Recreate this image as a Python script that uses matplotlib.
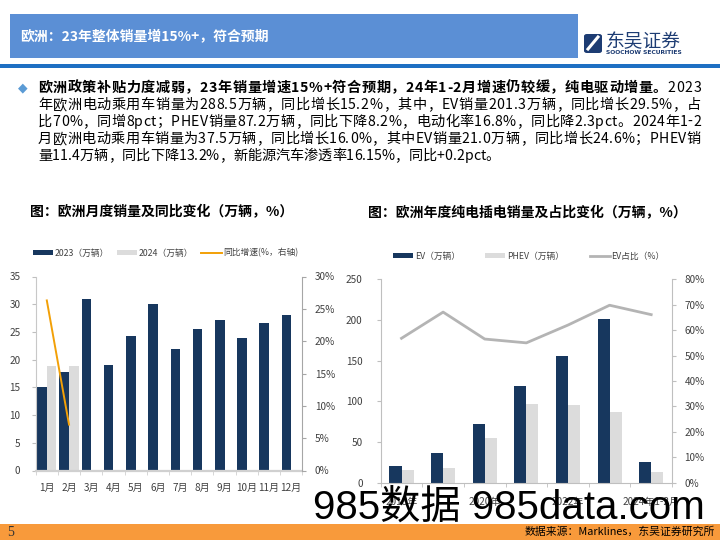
import matplotlib
matplotlib.use('Agg')
import matplotlib.pyplot as plt
import numpy as np
from matplotlib.patches import Rectangle, FancyBboxPatch, Patch
from matplotlib.lines import Line2D
from matplotlib.ticker import FuncFormatter, FixedLocator

plt.rcParams['font.family'] = ['Noto Sans CJK SC', 'DejaVu Sans']

# ---------------- data ----------------
months = ['1月', '2月', '3月', '4月', '5月', '6月', '7月', '8月', '9月', '10月', '11月', '12月']
sales_2023 = [15.0, 17.7, 31.0, 19.1, 24.3, 30.0, 22.0, 25.5, 27.2, 23.9, 26.6, 28.1]
sales_2024 = [18.9, 18.9]
yoy_2024 = [26.3, 7.1]

years = ['2018年', '2019年', '2020年', '2021年', '2022年', '2023年', '2024年1-2月']
ev_sales = [20.9, 36.5, 72.1, 118.4, 156.1, 201.3, 25.4]
phev_sales = [16.0, 18.4, 55.3, 97.1, 95.9, 87.2, 13.5]
ev_share = [56.8, 67.1, 56.5, 55.0, 62.0, 69.8, 66.1]

title = '欧洲：23年整体销量增15%+，符合预期'
body_bold = '欧洲政策补贴力度减弱，23年销量增速15%+符合预期，24年1-2月增速仍较缓，纯电驱动增量。'
body_lines = [
    '2023',
    '年欧洲电动乘用车销量为288.5万辆，同比增长15.2%，其中，EV销量201.3万辆，同比增长29.5%，占',
    '比70%，同增8pct；PHEV销量87.2万辆，同比下降8.2%，电动化率16.8%，同比降2.3pct。2024年1-2',
    '月欧洲电动乘用车销量为37.5万辆，同比增长16.0%，其中EV销量21.0万辆，同比增长24.6%；PHEV销',
    '量11.4万辆，同比下降13.2%，新能源汽车渗透率16.15%，同比+0.2pct。',
]
chart1_title = '图：欧洲月度销量及同比变化（万辆，%）'
chart2_title = '图：欧洲年度纯电插电销量及占比变化（万辆，%）'
source = '数据来源：Marklines，东吴证券研究所'

# ---------------- style ----------------
NAVY = '#17375E'
LGRAY = '#DCDCDC'
ORANGE = '#F2A007'
LINEGRAY = '#B4B4B4'
TXT = '#404040'

W, H = 720, 540
fig = plt.figure(figsize=(7.2, 5.4), dpi=100)
renderer = fig.canvas.get_renderer()

def fx(x):
    return x / W

def fy(y):
    return 1 - y / H

def rect(x0, y0, x1, y1, color, **kw):
    r = Rectangle((fx(x0), fy(y1)), fx(x1 - x0), (y1 - y0) / H, transform=fig.transFigure,
                  facecolor=color, edgecolor='none', **kw)
    fig.add_artist(r)
    return r

def text_width(s, **props):
    t = fig.text(0, 0, s, **props)
    w = t.get_window_extent(renderer).width
    t.remove()
    return w

def char_offsets(s, **props):
    base = text_width('|', **props)
    offs = [0.0]
    for k in range(1, len(s) + 1):
        offs.append(text_width(s[:k] + '|', **props) - base)
    return offs

def justified_line(segments, x0, x1, y, justify=True):
    """segments: list of (string, props). Distribute characters across [x0, x1]."""
    items = []
    start = 0.0
    for s, props in segments:
        offs = char_offsets(s, **props)
        for k, c in enumerate(s):
            items.append((c, start + offs[k], props))
        start += offs[-1]
    natural = start
    n = len(items)
    extra = (x1 - x0 - natural) / (n - 1) if (justify and n > 1) else 0.0
    for k, (c, off, props) in enumerate(items):
        fig.text(fx(x0 + off + k * extra), fy(y), c, va='center', ha='left', **props)

# header bar
rect(10, 14, 578, 58, '#5B8FD5')
fig.text(fx(20), fy(37), title, color='white', fontsize=10.0, fontweight='bold', va='center', ha='left')
rect(0, 64, 720, 68, '#1E6FC3')

# logo
icon = FancyBboxPatch((fx(584), fy(53)), fx(18), 19 / H, boxstyle='round,pad=0,rounding_size=0.004',
                      transform=fig.transFigure, facecolor='#1D3C73', edgecolor='none')
fig.add_artist(icon)
fig.add_artist(Line2D([fx(588), fx(598)], [fy(49), fy(37)], transform=fig.transFigure, color='white', lw=2.2))
fig.text(fx(606), fy(42), '东吴证券', color='#1D3C73', fontsize=13.5, va='center', ha='left')
fig.text(fx(606), fy(53), 'SOOCHOW SECURITIES', color='#1D3C73', fontsize=4.3, fontweight='bold',
         va='center', ha='left', family=['DejaVu Sans'])

# body text (justified like the slide)
BODY = 10.2
reg = dict(fontsize=BODY, color='black')
bold = dict(fontsize=BODY, color='black', fontweight='bold')
fig.text(fx(23), fy(88), '\u25C6', color='#5B9BD5', fontsize=9, va='center', ha='center', family=['DejaVu Sans'])
justified_line([(body_bold, bold), (body_lines[0], reg)], 38, 701, 88)
for i, line in enumerate(body_lines[1:]):
    last = (i == len(body_lines) - 2)
    justified_line([(line, reg)], 38, 701, 105 + 17 * i, justify=not last)

# chart titles
fig.text(fx(30), fy(212), chart1_title, fontsize=10, fontweight='bold', va='center', ha='left', color='black')
fig.text(fx(368), fy(213), chart2_title, fontsize=10, fontweight='bold', va='center', ha='left', color='black')

# ---------------- chart 1 ----------------
TICK = 7.2
ax1 = fig.add_axes([fx(35.7), fy(470.5), fx(266.6), 194 / H])
x1 = np.arange(len(months))
w1 = 0.43
ax1.bar(x1 - w1 / 2, sales_2023, w1, color=NAVY, zorder=2)
ax1.bar(np.arange(len(sales_2024)) + w1 / 2, sales_2024, w1, color=LGRAY, zorder=1)
ax1.set_xlim(-0.5, len(months) - 0.5)
ax1.set_ylim(0, 35)
ax1.set_yticks(np.arange(0, 36, 5))
ax1.set_xticks(x1)
ax1.set_xticklabels(months)
ax1.xaxis.set_minor_locator(FixedLocator(np.arange(-0.5, len(months), 1)))
ax1.tick_params(axis='x', which='major', length=0, pad=9, labelsize=TICK, labelcolor=TXT)
ax1.tick_params(axis='x', which='minor', length=3, color='#D0D0D0', direction='out')
ax1.tick_params(axis='y', length=3, color='#BFBFBF', labelsize=TICK, labelcolor=TXT, pad=8)
for s in ['top', 'right']:
    ax1.spines[s].set_visible(False)
ax1.spines['left'].set_color('#C8C8C8')
ax1.spines['bottom'].set_color('#D0D0D0')
ax1.spines['bottom'].set_linewidth(1.6)

ax1b = ax1.twinx()
ax1b.plot(np.arange(len(yoy_2024)), yoy_2024, color=ORANGE, lw=1.4, zorder=3)
ax1b.set_ylim(0, 30)
ax1b.set_yticks(np.arange(0, 31, 5))
ax1b.yaxis.set_major_formatter(FuncFormatter(lambda v, p: f'{v:.0f}%'))
ax1b.tick_params(axis='y', length=3, color='#A6A6A6', labelsize=TICK, labelcolor=TXT, pad=6)
for s in ['top', 'left', 'bottom']:
    ax1b.spines[s].set_visible(False)
ax1b.spines['right'].set_color('#A6A6A6')

LEG = 6.3
h1 = [Patch(facecolor=NAVY), Patch(facecolor=LGRAY), Line2D([], [], color=ORANGE, lw=1.4)]
l1 = ['2023（万辆）', '2024（万辆）', '同比增速(%，右轴)']
fig.legend(h1, l1, loc='center left', bbox_to_anchor=(fx(33), fy(253)), ncol=3, frameon=False,
           fontsize=LEG, handlelength=2.3, handleheight=0.55, handletextpad=0.2, columnspacing=0.9,
           borderaxespad=0, borderpad=0, labelcolor=TXT)

# ---------------- chart 2 ----------------
ax2 = fig.add_axes([fx(380.7), fy(482.7), fx(291.3), 203.4 / H])
x2 = np.arange(len(years))
w2 = 0.29
ax2.bar(x2 - w2 / 2, ev_sales, w2, color=NAVY, zorder=2)
ax2.bar(x2 + w2 / 2, phev_sales, w2, color=LGRAY, zorder=2)
ax2.set_xlim(-0.5, len(years) - 0.5)
ax2.set_ylim(0, 250)
ax2.set_yticks(np.arange(0, 251, 50))
show = list(range(0, len(years), 2))
ax2.set_xticks(show)
ax2.set_xticklabels([years[i] for i in show])
ax2.xaxis.set_minor_locator(FixedLocator(np.arange(-0.5, len(years), 1)))
ax2.tick_params(axis='x', which='major', length=0, pad=10, labelsize=TICK, labelcolor=TXT)
ax2.tick_params(axis='x', which='minor', length=3, color='#BFBFBF', direction='out')
ax2.tick_params(axis='y', length=3, color='#BFBFBF', labelsize=TICK, labelcolor=TXT, pad=10)
for s in ['top', 'right']:
    ax2.spines[s].set_visible(False)
ax2.spines['left'].set_color('#BFBFBF')
ax2.spines['bottom'].set_color('#BFBFBF')

ax2b = ax2.twinx()
ax2b.plot(x2, ev_share, color=LINEGRAY, lw=2.0, zorder=3)
ax2b.set_ylim(0, 80)
ax2b.set_yticks(np.arange(0, 81, 10))
ax2b.yaxis.set_major_formatter(FuncFormatter(lambda v, p: f'{v:.0f}%'))
ax2b.tick_params(axis='y', length=3, color='#BFBFBF', labelsize=TICK, labelcolor=TXT, pad=6)
for s in ['top', 'left', 'bottom']:
    ax2b.spines[s].set_visible(False)
ax2b.spines['right'].set_color('#BFBFBF')

h2 = [Patch(facecolor=NAVY), Patch(facecolor=LGRAY), Line2D([], [], color=LINEGRAY, lw=2.0)]
l2 = ['EV（万辆）', 'PHEV（万辆）', 'EV占比（%）']
fig.legend(h2, l2, loc='center left', bbox_to_anchor=(fx(393), fy(256)), ncol=3, frameon=False,
           fontsize=LEG, handlelength=2.3, handleheight=0.55, handletextpad=0.2, columnspacing=2.9,
           borderaxespad=0, borderpad=0, labelcolor=TXT)

# ---------------- footer ----------------
fig.text(fx(313), fy(508), '985数据 985data.com', fontsize=29, color='black', va='center', ha='left',
         family=['Liberation Sans', 'Noto Sans CJK SC'], zorder=10)
rect(0, 524, 720, 540, '#F89A3B')
fig.text(fx(7), fy(532), '5', fontsize=10, color='#333333', va='center', ha='left', family=['Liberation Serif'])
fig.text(fx(715), fy(532), source, fontsize=7.8, color='black', va='center', ha='right')

fig.savefig('out.png', dpi=100)
